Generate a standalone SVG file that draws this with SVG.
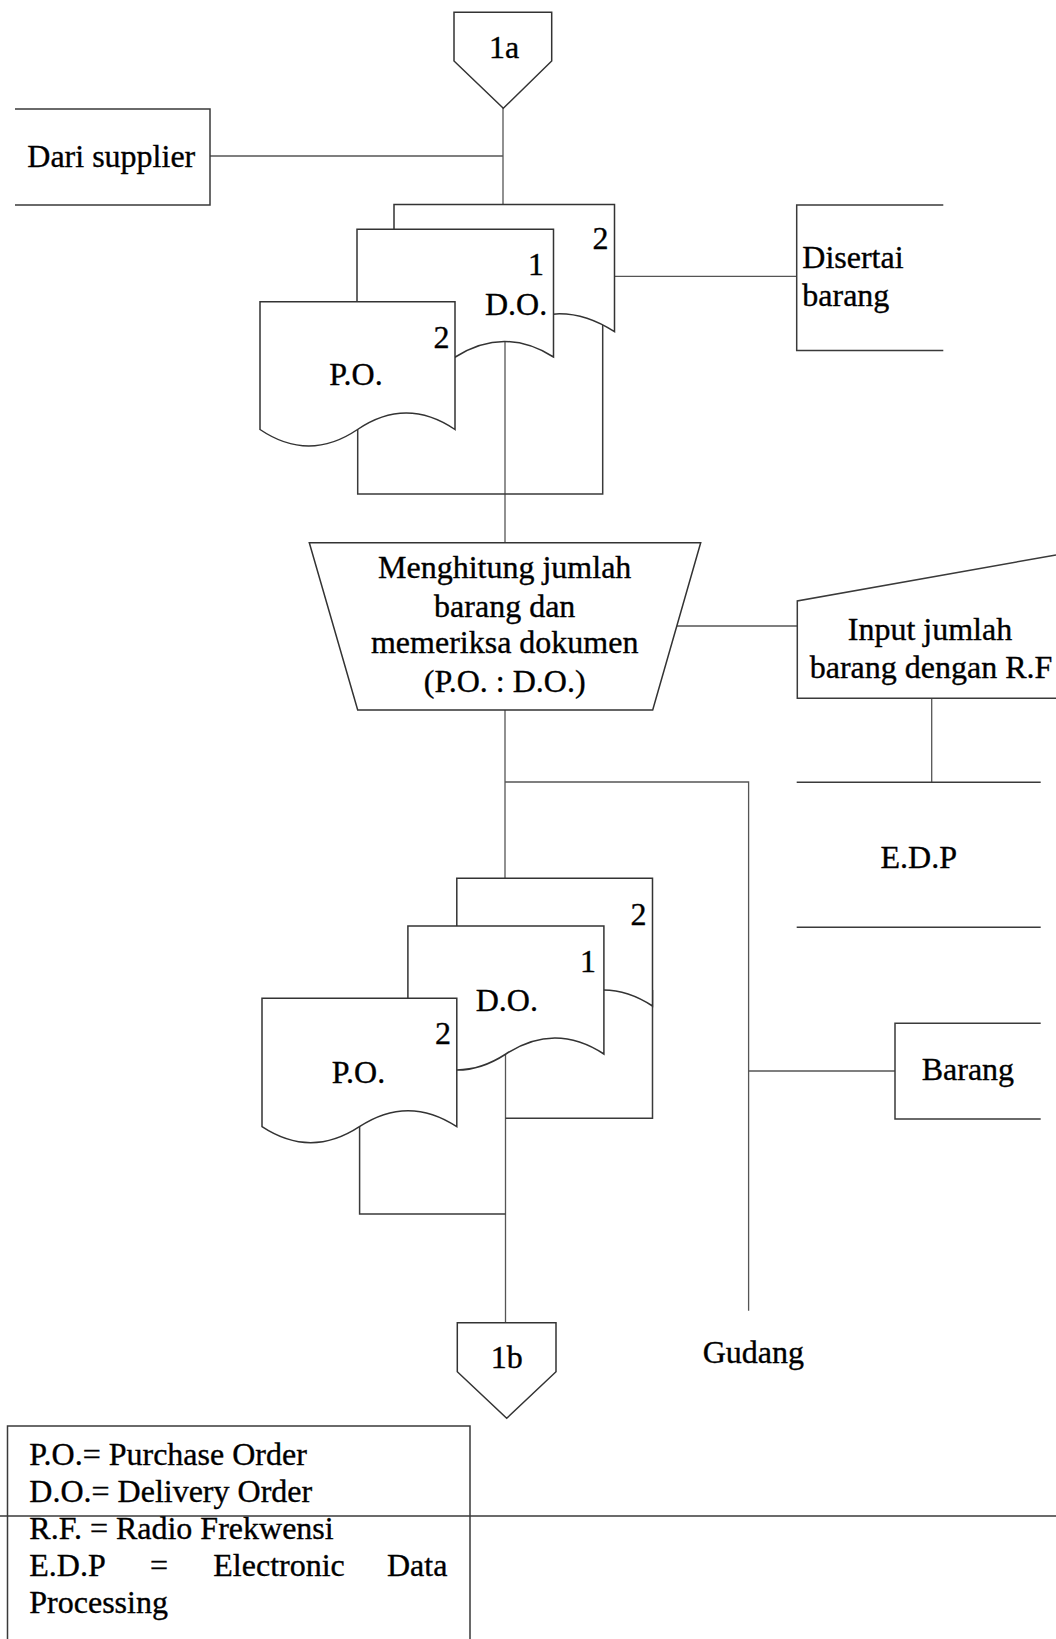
<svg xmlns="http://www.w3.org/2000/svg" width="1056" height="1639" viewBox="0 0 1056 1639">
<style>
  .ln{fill:none;stroke:#3a3a3a;stroke-width:1.5}
  .cn{fill:none;stroke:#555;stroke-width:1.3}
  .sh{fill:#fff;stroke:#333;stroke-width:1.5}
  .t{font-family:"Liberation Serif","Times New Roman",serif;font-size:32px;fill:#000;stroke:#000;stroke-width:0.35}
  .m{text-anchor:middle}
  .e{text-anchor:end}
</style>
<rect width="1056" height="1639" fill="#fff"/>

<g id="connectors">
  <path class="cn" d="M503,108 V204.5"/>
  <path class="cn" d="M210,156 H503"/>
  <path class="cn" d="M614.5,276.4 H796.7"/>
  <path class="cn" d="M505,330 V542.7"/>
  <path class="cn" d="M676.8,626 H797.3"/>
  <path class="cn" d="M505,710 V878.3"/>
  <path class="cn" d="M505,782 H748.6 V1310.7"/>
  <path class="cn" d="M748.6,1071 H895"/>
  <path class="cn" d="M931.7,698.3 V782.3"/>
  <path class="cn" d="M505.5,1040 V1322.7"/>
</g>

<g id="node-1a">
  <path class="sh" d="M454,12.3 H551.7 V61 L503.3,108.3 L454,61 Z"/>
  <text class="t m" x="504" y="58">1a</text>
</g>

<g id="node-dari-supplier">
  <path class="ln" d="M15,109 H210 V205 H15"/>
  <text class="t" x="27.3" y="166.7">Dari supplier</text>
</g>

<g id="node-docs-1">
  <path class="ln" d="M357.7,420 V494 H602.7 V320"/>
  <path class="sh" d="M394,204.5 H614.5 V331.7 Q559.4,295.7 504.2,331.7 T394,331.7 Z"/>
  <path class="sh" d="M357,229.3 H553.5 V357 Q504.4,326 455.3,357 T357,357 Z"/>
  <path class="sh" d="M260,301.7 H455 V429.5 Q406.2,396.5 357.5,429.5 T260,429.5 Z"/>
  <text class="t e" x="608.5" y="249.3">2</text>
  <text class="t e" x="544" y="275">1</text>
  <text class="t" x="485" y="315">D.O.</text>
  <text class="t e" x="449.5" y="347.7">2</text>
  <text class="t" x="329.3" y="385">P.O.</text>
</g>

<g id="node-disertai">
  <path class="ln" d="M943.3,205 H796.7 V350.4 H943.3"/>
  <text class="t" x="802.3" y="267.5">Disertai</text>
  <text class="t" x="802.3" y="305.7">barang</text>
</g>

<g id="node-menghitung">
  <path class="sh" d="M309.3,542.7 H700.7 L652.7,710 H357.7 Z"/>
  <text class="t m" x="504.7" y="578.3">Menghitung jumlah</text>
  <text class="t m" x="504.7" y="616.7">barang dan</text>
  <text class="t m" x="504.7" y="653.3">memeriksa dokumen</text>
  <text class="t m" x="504.7" y="691.7">(P.O. : D.O.)</text>
</g>

<g id="node-input-rf">
  <path class="ln" d="M1056,555 L797.3,601 V698.3 H1056"/>
  <text class="t m" x="930" y="640">Input jumlah</text>
  <text class="t m" x="931" y="678.3">barang dengan R.F</text>
</g>

<g id="node-edp">
  <path class="ln" d="M796.7,782.3 H1040.7 M796.7,927.3 H1040.7"/>
  <text class="t m" x="918.7" y="868.3">E.D.P</text>
</g>

<g id="node-docs-2">
  <path class="ln" d="M359.6,1110 V1214 H505.5"/>
  <path class="ln" d="M652.5,990 V1118.3 H505.5"/>
  <path class="sh" d="M456.8,878.3 H652.5 V1006 Q603.6,974 554.6,1006 T456.8,1006 Z"/>
  <path class="sh" d="M407.9,926 H603.9 V1054 Q554.9,1022 505.9,1054 T407.9,1054 Z"/>
  <path class="sh" d="M262,998.3 H456.8 V1126.7 Q408.1,1094.7 359.4,1126.7 T262,1126.7 Z"/>
  <text class="t e" x="646.5" y="925">2</text>
  <text class="t e" x="596" y="972.3">1</text>
  <text class="t" x="475.7" y="1010.7">D.O.</text>
  <text class="t e" x="451" y="1044">2</text>
  <text class="t" x="331.8" y="1082.7">P.O.</text>
</g>

<g id="node-barang">
  <path class="ln" d="M1040.7,1023.3 H895 V1119 H1040.7"/>
  <text class="t" x="921.7" y="1080">Barang</text>
</g>

<g id="node-gudang">
  <text class="t" x="702.7" y="1363.3">Gudang</text>
</g>

<g id="node-1b">
  <path class="sh" d="M457.3,1322.7 H556 V1371.7 L506.7,1418.3 L457.3,1371.7 Z"/>
  <text class="t m" x="506.7" y="1368.3">1b</text>
</g>

<g id="legend">
  <path class="ln" d="M7.5,1639 V1426 H470 V1639"/>
  <path class="ln" d="M0,1516 H1056"/>
  <text class="t" x="29.3" y="1465">P.O.= Purchase Order</text>
  <text class="t" x="29.3" y="1501.7">D.O.= Delivery Order</text>
  <text class="t" x="29.3" y="1539">R.F. = Radio Frekwensi</text>
  <text class="t" y="1576"><tspan x="29.3">E.D.P</tspan><tspan x="150">=</tspan><tspan x="213.3">Electronic</tspan><tspan x="387">Data</tspan></text>
  <text class="t" x="29.3" y="1612.7">Processing</text>
</g>
</svg>
